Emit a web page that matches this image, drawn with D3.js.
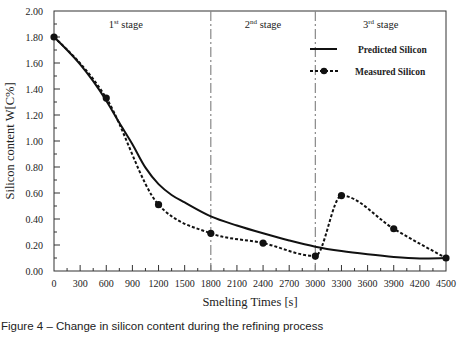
<!DOCTYPE html>
<html>
<head>
<meta charset="utf-8">
<script src="https://cdn.jsdelivr.net/npm/d3@7"></script>
<style>
  body { margin: 0; background: #fff; }
  text { font-family: "Liberation Serif", "Times New Roman", serif; fill: #222; }
  .caption { font-family: "Liberation Sans", Arial, sans-serif; }
</style>
</head>
<body>
<div id="vis"></div>
<script>
//static size of the picture
const width = 468
const height = 337
const margin = { top: 11, right: 21, bottom: 66, left: 54 }

//measured silicon points
const measuredTime = [0, 600, 1200, 1800, 2400, 3000, 3300, 3900, 4500]
const measuredSi = [1.80, 1.33, 0.51, 0.29, 0.215, 0.115, 0.58, 0.325, 0.10]

//predicted silicon
const predictedTime = [0, 150, 300, 450, 600, 750, 900, 1050, 1200, 1350, 1500, 1800, 2100, 2400, 2700, 3000, 3300, 3600, 3900, 4200, 4500]
const predictedSi = [1.80, 1.70, 1.59, 1.46, 1.31, 1.14, 0.975, 0.795, 0.668, 0.585, 0.527, 0.42, 0.35, 0.29, 0.235, 0.187, 0.153, 0.128, 0.108, 0.097, 0.10]

//stage borders and labels
const stageLines = [1800, 3000]
const stageLabels = [
    { at: 825, n: '1', sup: 'st' },
    { at: 2400, n: '2', sup: 'nd' },
    { at: 3750, n: '3', sup: 'rd' }
]

const xTicks = d3.range(0, 4501, 300)
const yTicks = d3.range(0, 2.001, 0.2)

const svg = d3.select('#vis')
    .append('svg')
    .attr('width', width)
    .attr('height', height)

const x = d3.scaleLinear()
    .domain([0, 4500])
    .range([margin.left, width - margin.right - 1])

const y = d3.scaleLinear()
    .domain([0, 2])
    .range([height - margin.bottom, margin.top])

//frame
svg.append('rect')
    .attr('x', x(0))
    .attr('y', y(2))
    .attr('width', x(4500) - x(0))
    .attr('height', y(0) - y(2))
    .attr('fill', 'none')
    .attr('stroke', '#333')
    .attr('stroke-width', 1)

//ticks point inward, minor ticks between majors
const xMinor = d3.range(150, 4500, 300)
const yMinor = d3.range(0.1, 2, 0.2)

svg.append('g').selectAll('line')
    .data(xTicks.slice(1, -1))
    .enter().append('line')
    .attr('x1', d => x(d)).attr('x2', d => x(d))
    .attr('y1', y(0)).attr('y2', y(0) - 6)
    .attr('stroke', '#333')
svg.append('g').selectAll('line')
    .data(xMinor)
    .enter().append('line')
    .attr('x1', d => x(d)).attr('x2', d => x(d))
    .attr('y1', y(0)).attr('y2', y(0) - 3)
    .attr('stroke', '#333')
svg.append('g').selectAll('line')
    .data(yTicks.slice(1, -1))
    .enter().append('line')
    .attr('x1', x(0)).attr('x2', x(0) + 6)
    .attr('y1', d => y(d)).attr('y2', d => y(d))
    .attr('stroke', '#333')
svg.append('g').selectAll('line')
    .data(yMinor)
    .enter().append('line')
    .attr('x1', x(0)).attr('x2', x(0) + 3)
    .attr('y1', d => y(d)).attr('y2', d => y(d))
    .attr('stroke', '#333')

//tick labels
svg.append('g').selectAll('text')
    .data(xTicks)
    .enter().append('text')
    .attr('x', d => x(d))
    .attr('y', y(0) + 16)
    .attr('text-anchor', 'middle')
    .attr('font-size', 10)
    .text(d => d)
svg.append('g').selectAll('text')
    .data(yTicks)
    .enter().append('text')
    .attr('x', x(0) - 11)
    .attr('y', d => y(d) + 3.5)
    .attr('text-anchor', 'end')
    .attr('font-size', 10)
    .text(d => d.toFixed(2))

//axis titles
svg.append('text')
    .attr('x', (x(0) + x(4500)) / 2)
    .attr('y', 306)
    .attr('text-anchor', 'middle')
    .attr('font-size', 12.5)
    .text('Smelting Times [s]')
svg.append('text')
    .attr('transform', `translate(14, ${(y(0) + y(2)) / 2}) rotate(-90)`)
    .attr('text-anchor', 'middle')
    .attr('font-size', 12.5)
    .text('Silicon content W[C%]')

//stage borders
svg.append('g').selectAll('line')
    .data(stageLines)
    .enter().append('line')
    .attr('x1', d => x(d)).attr('x2', d => x(d))
    .attr('y1', y(2)).attr('y2', y(0))
    .attr('stroke', '#888')
    .attr('stroke-width', 1.2)
    .attr('stroke-dasharray', '10,3,2,3')

const stage = svg.append('g').selectAll('text')
    .data(stageLabels)
    .enter().append('text')
    .attr('x', d => x(d.at))
    .attr('y', 28)
    .attr('text-anchor', 'middle')
    .attr('font-size', 10.5)
stage.append('tspan').text(d => d.n)
stage.append('tspan').attr('dy', -4).attr('font-size', 7).text(d => d.sup)
stage.append('tspan').attr('dy', 4).text(' stage')

//predicted curve
const predicted = predictedTime.map((t, i) => [t, predictedSi[i]])
svg.append('path')
    .datum(predicted)
    .attr('fill', 'none')
    .attr('stroke', '#111')
    .attr('stroke-width', 2)
    .attr('d', d3.line().x(d => x(d[0])).y(d => y(d[1])).curve(d3.curveCatmullRom.alpha(0.5)))

//measured curve
const measured = measuredTime.map((t, i) => [t, measuredSi[i]])
svg.append('path')
    .datum(measured)
    .attr('fill', 'none')
    .attr('stroke', '#111')
    .attr('stroke-width', 2)
    .attr('stroke-dasharray', '3,2')
    .attr('d', d3.line().x(d => x(d[0])).y(d => y(d[1])).curve(d3.curveMonotoneX))

svg.append('g').selectAll('circle')
    .data(measured)
    .enter().append('circle')
    .attr('cx', d => x(d[0]))
    .attr('cy', d => y(d[1]))
    .attr('r', 3.6)
    .attr('fill', '#111')

//legend
const legend = svg.append('g')
legend.append('line')
    .attr('x1', 310).attr('x2', 337)
    .attr('y1', 49).attr('y2', 49)
    .attr('stroke', '#111').attr('stroke-width', 2)
legend.append('text')
    .attr('x', 358).attr('y', 52.5)
    .attr('font-size', 9.5).attr('font-weight', 'bold')
    .text('Predicted Silicon')
legend.append('line')
    .attr('x1', 310).attr('x2', 338)
    .attr('y1', 71).attr('y2', 71)
    .attr('stroke', '#111').attr('stroke-width', 2)
    .attr('stroke-dasharray', '3,2')
legend.append('circle')
    .attr('cx', 324).attr('cy', 71).attr('r', 3.3).attr('fill', '#111')
legend.append('text')
    .attr('x', 355).attr('y', 74.5)
    .attr('font-size', 9.5).attr('font-weight', 'bold')
    .text('Measured Silicon')

//caption
svg.append('text')
    .attr('class', 'caption')
    .attr('x', 1)
    .attr('y', 330)
    .attr('font-size', 11.5)
    .text('Figure 4 \u2013 Change in silicon content during the refining process')
</script>
</body>
</html>
